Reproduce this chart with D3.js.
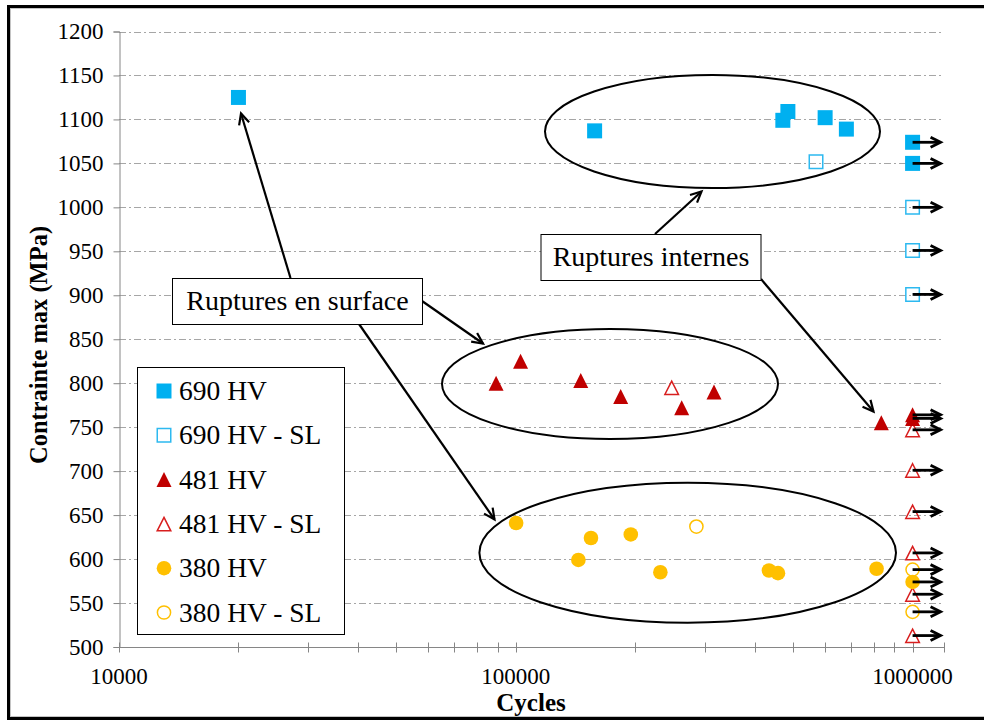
<!DOCTYPE html>
<html>
<head>
<meta charset="utf-8">
<script src="https://cdn.jsdelivr.net/npm/d3@7/dist/d3.min.js"></script>
<style>
  html, body { margin: 0; padding: 0; background: #fff; }
  svg { display: block; }
  text { font-family: "Liberation Serif", "Times New Roman", serif; }
</style>
</head>
<body>
<svg id="chart" width="984" height="723"></svg>
<script>
// Fatigue results: cycles to failure vs maximum stress, three hardness levels.
// "SL" = run-out (no failure), drawn as open markers.
const seriesNames = ["690 HV", "690 HV - SL", "481 HV", "481 HV - SL", "380 HV", "380 HV - SL"];

const hv690Cycles   = [20000, 158000, 471000, 485000, 602000, 681000, 1000000, 1000000];
const hv690Stress   = [1125, 1087, 1099, 1109, 1102, 1089, 1074, 1050];
const hv690SLCycles = [571000, 1000000, 1000000, 1000000];
const hv690SLStress = [1052, 1000, 951, 901];

const hv481Cycles   = [89200, 102800, 145800, 183800, 261900, 315900, 834000, 1000000, 1000000];
const hv481Stress   = [800, 825, 803, 785, 772, 790, 755, 764, 760];
const hv481SLCycles = [247100, 1000000, 1000000, 1000000, 1000000, 1000000, 1000000];
const hv481SLStress = [795, 747, 701, 654, 607, 560, 513];

const hv380Cycles   = [100200, 143800, 154700, 194900, 231400, 434600, 457900, 811500, 1000000];
const hv380Stress   = [641, 599, 624, 628, 585, 587, 584, 589, 574];
const hv380SLCycles = [285200, 1000000, 1000000];
const hv380SLStress = [637, 588, 540];

const yTicks = [500, 550, 600, 650, 700, 750, 800, 850, 900, 950, 1000, 1050, 1100, 1150, 1200];
const xTicks = [10000, 100000, 1000000];
const runoutCycles = 1000000;

const svg = d3.select("#chart");

const x = d3.scaleLog().domain([10000, 1200000]).range([119, 944]);
const y = d3.scaleLinear().domain([500, 1200]).range([647, 31.5]);

// outer frame
svg.append("rect").attr("x", 8.5).attr("y", 6.5).attr("width", 1000).attr("height", 712)
  .attr("fill", "none").attr("stroke", "#000").attr("stroke-width", 3);
svg.append("rect").attr("x", 10.5).attr("y", 8.5).attr("width", 1000).attr("height", 708)
  .attr("fill", "none").attr("stroke", "#c4c4c4").attr("stroke-width", 1);

// horizontal gridlines
svg.append("g").selectAll("line").data(yTicks.filter(d => d > 500)).join("line")
  .attr("x1", x.range()[0]).attr("x2", x.range()[1])
  .attr("y1", d => Math.round(y(d)) + 0.5).attr("y2", d => Math.round(y(d)) + 0.5)
  .attr("stroke", "#a6a6a6").attr("stroke-width", 1).attr("stroke-dasharray", "7,3,2,3");

// y axis
const yAxis = d3.axisLeft(y).tickValues(yTicks).tickSize(6).tickPadding(10).tickFormat(d3.format("d"));
const gy = svg.append("g").attr("transform", `translate(${x.range()[0] + 0.5},0)`).call(yAxis);
gy.select(".domain").attr("stroke", "#868686");
gy.selectAll(".tick line").attr("stroke", "#868686");
gy.selectAll(".tick text").attr("font-size", 23).attr("fill", "#000")
  .attr("font-family", "Liberation Serif");

// x axis: major and minor ticks crossing the axis line
const minor = [];
[10000, 100000].forEach(dec => { for (let k = 2; k <= 9; k++) minor.push(dec * k); });
const gx = svg.append("g").attr("transform", `translate(0,${Math.round(y(500)) + 0.5})`);
gx.append("line").attr("x1", x.range()[0]).attr("x2", x.range()[1])
  .attr("stroke", "#868686");
gx.selectAll("line.tk").data(xTicks.concat(minor, [1200000])).join("line").attr("class", "tk")
  .attr("x1", d => Math.round(x(d)) + 0.5).attr("x2", d => Math.round(x(d)) + 0.5)
  .attr("y1", -5).attr("y2", 5).attr("stroke", "#868686");
gx.selectAll("text").data(xTicks).join("text")
  .attr("x", d => x(d)).attr("y", 36).attr("text-anchor", "middle")
  .attr("font-size", 23).text(d => d3.format("d")(d));

// axis titles
svg.append("text").attr("x", 531).attr("y", 711).attr("text-anchor", "middle")
  .attr("font-size", 25).attr("font-weight", "bold").text("Cycles");
svg.append("text").attr("transform", "translate(47,345) rotate(-90)").attr("text-anchor", "middle")
  .attr("font-size", 24.5).attr("font-weight", "bold").text("Contrainte max (MPa)");

// ellipses grouping failure modes
const ellipses = [
  { cx: 712.5, cy: 131.5, rx: 167.5, ry: 56.5 },
  { cx: 610, cy: 384, rx: 168, ry: 55 },
  { cx: 687.7, cy: 552.7, rx: 208.3, ry: 70 }
];
svg.append("g").selectAll("ellipse").data(ellipses).join("ellipse")
  .attr("cx", d => d.cx).attr("cy", d => d.cy).attr("rx", d => d.rx).attr("ry", d => d.ry)
  .attr("fill", "none").attr("stroke", "#000").attr("stroke-width", 2);

// marker shapes
const S = 15;
const shapes = {
  square: `M${-S/2},${-S/2}h${S}v${S}h${-S}Z`,
  triangle: `M0,${-S/2}L${S/2},${S/2}L${-S/2},${S/2}Z`,
  circle: d3.symbol(d3.symbolCircle, Math.PI * 7.3 * 7.3)()
};
const openShapes = {
  square: `M${-S/2+0.75},${-S/2+0.75}h${S-1.5}v${S-1.5}h${-(S-1.5)}Z`,
  triangle: `M0,${-S/2+1}L${S/2-0.7},${S/2-0.6}L${-S/2+0.7},${S/2-0.6}Z`,
  circle: d3.symbol(d3.symbolCircle, Math.PI * 6.6 * 6.6)()
};

const series = [
  { name: seriesNames[0], xs: hv690Cycles,   ys: hv690Stress,   shape: "square",   color: "#00B0F0", open: false },
  { name: seriesNames[1], xs: hv690SLCycles, ys: hv690SLStress, shape: "square",   color: "#2DB9F0", open: true },
  { name: seriesNames[2], xs: hv481Cycles,   ys: hv481Stress,   shape: "triangle", color: "#C00000", open: false },
  { name: seriesNames[3], xs: hv481SLCycles, ys: hv481SLStress, shape: "triangle", color: "#D81E1E", open: true },
  { name: seriesNames[4], xs: hv380Cycles,   ys: hv380Stress,   shape: "circle",   color: "#FFC000", open: false },
  { name: seriesNames[5], xs: hv380SLCycles, ys: hv380SLStress, shape: "circle",   color: "#FFC000", open: true }
];

function drawMarker(sel, s) {
  sel.attr("d", s.open ? openShapes[s.shape] : shapes[s.shape])
    .attr("fill", s.open ? "none" : s.color)
    .attr("stroke", s.open ? s.color : "none")
    .attr("stroke-width", s.open ? 1.5 : 0);
}

// draw open (run-out) series beneath the filled ones
const drawOrder = [1, 3, 5, 0, 2, 4];
const gPts = svg.append("g");
drawOrder.forEach(i => {
  const s = series[i];
  const pts = s.xs.map((c, j) => ({ c, v: s.ys[j] }));
  gPts.append("g").selectAll("path").data(pts).join("path")
    .attr("transform", d => `translate(${x(d.c)},${y(d.v)})`)
    .call(sel => drawMarker(sel, s));
});

// run-out arrows at the test limit
const runouts = [];
series.forEach(s => s.xs.forEach((c, j) => { if (c === runoutCycles) runouts.push(s.ys[j]); }));
const gRun = svg.append("g").attr("stroke", "#000").attr("stroke-width", 2.8).attr("fill", "none")
  .attr("stroke-linecap", "butt");
runouts.forEach(v => {
  const x0 = x(runoutCycles), yy = y(v), x1 = x0 + 28;
  gRun.append("line").attr("x1", x0).attr("x2", x1 - 1).attr("y1", yy).attr("y2", yy);
  gRun.append("path").attr("d", `M${x1 - 10},${yy - 5}L${x1},${yy}L${x1 - 10},${yy + 5}`)
    .attr("stroke-linejoin", "miter");
});

// annotation arrows
const arrows = [
  [290.5, 278, 241, 113.5],
  [422, 301, 483, 343.5],
  [359, 324, 494.5, 519.5],
  [655, 234, 701.5, 191.5],
  [761, 279, 873.5, 411.5]
];
const gArr = svg.append("g").attr("stroke", "#000").attr("stroke-width", 2.2).attr("fill", "none");
arrows.forEach(([x0, y0, x1, y1]) => {
  const a = Math.atan2(y1 - y0, x1 - x0), L = 12, w = 0.45;
  gArr.append("line").attr("x1", x0).attr("y1", y0).attr("x2", x1).attr("y2", y1);
  gArr.append("path")
    .attr("d", `M${x1 - L * Math.cos(a - w)},${y1 - L * Math.sin(a - w)}L${x1},${y1}L${x1 - L * Math.cos(a + w)},${y1 - L * Math.sin(a + w)}`);
});

// annotation boxes
const notes = [
  { text: "Ruptures en surface", x: 172, y: 278.5, w: 250, h: 46 },
  { text: "Ruptures internes", x: 540.5, y: 234.5, w: 220, h: 46 }
];
notes.forEach(n => {
  svg.append("rect").attr("x", n.x + 0.5).attr("y", n.y).attr("width", n.w).attr("height", n.h)
    .attr("fill", "#fff").attr("stroke", "#000").attr("stroke-width", 1);
  svg.append("text").attr("x", n.x + n.w / 2 + 0.5).attr("y", n.y + 31.5).attr("text-anchor", "middle")
    .attr("font-size", 28).text(n.text);
});

// legend
const lg = svg.append("g");
lg.append("rect").attr("x", 137.5).attr("y", 367.5).attr("width", 207).attr("height", 267)
  .attr("fill", "#fff").attr("stroke", "#000").attr("stroke-width", 1);
series.forEach((s, i) => {
  const cy = 391 + i * 44.3;
  lg.append("path").attr("transform", `translate(164,${cy})`).call(sel => drawMarker(sel, s));
  lg.append("text").attr("x", 179).attr("y", cy + 9).attr("font-size", 27.5).text(s.name);
});
</script>
</body>
</html>
